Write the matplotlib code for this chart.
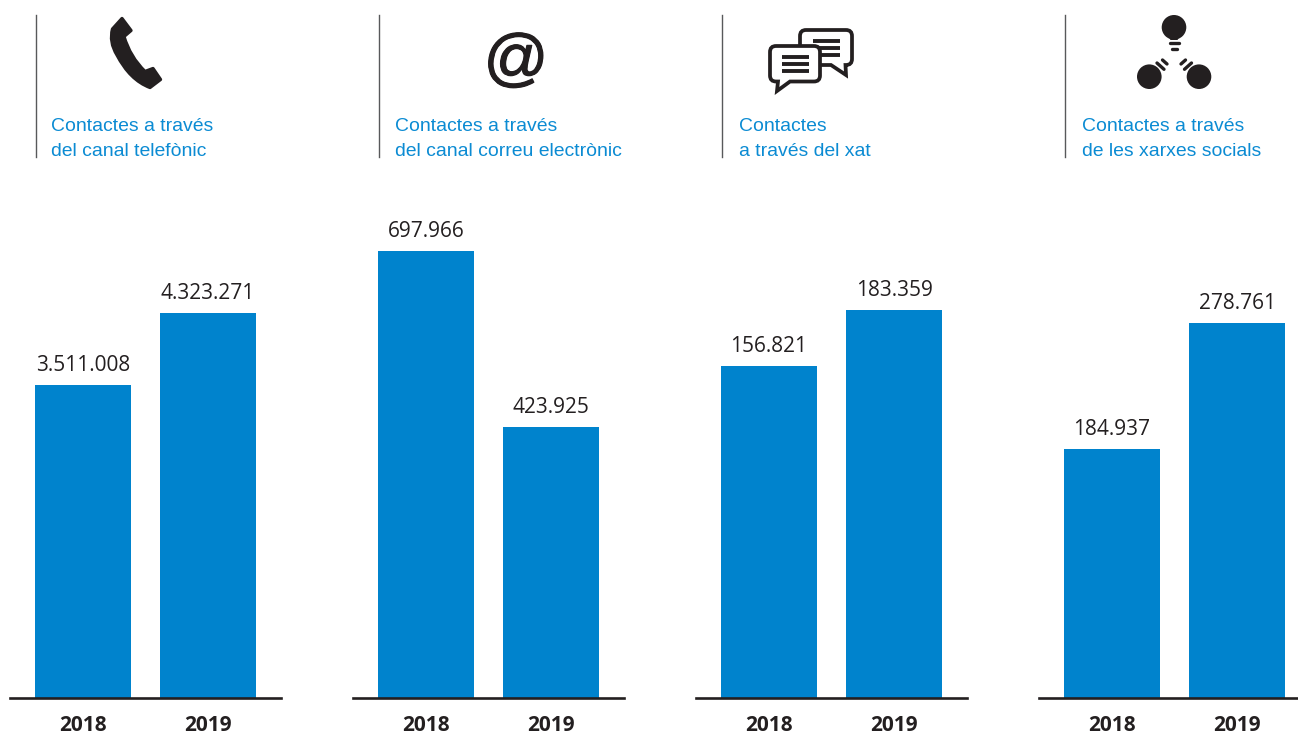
import matplotlib
matplotlib.use('Agg')
import matplotlib.pyplot as plt
import matplotlib.patheffects as pe
from matplotlib.path import Path
from matplotlib.patches import PathPatch, Circle

#data
years = ['2018', '2019']
telefon = [3511008, 4323271]
correu = [697966, 423925]
xat = [156821, 183359]
xarxes = [184937, 278761]
titols = [['Contactes a través', 'del canal telefònic'],
          ['Contactes a través', 'del canal correu electrònic'],
          ['Contactes', 'a través del xat'],
          ['Contactes a través', 'de les xarxes socials']]
# value per pixel of bar height, every panel has its own scale
escala = [11225, 1562, 472.5, 743]
panel_x = [10, 353, 696, 1039]
title_x = [51, 395, 739, 1082]
rule_x = [36, 379, 722, 1065]

W, H = 1298, 735
BLUE = '#0083cd'
TITLE = '#0b8bd3'
DARK = '#231f20'

plt.rcParams['font.family'] = ['Liberation Sans', 'DejaVu Sans']
fig = plt.figure(figsize=(W / 100, H / 100), dpi=100)

def fmt(v):
    return '{:,}'.format(int(v)).replace(',', '.')

#bars
base_y = 698
for i, vals in enumerate([telefon, correu, xat, xarxes]):
    ax = fig.add_axes([panel_x[i] / W, (H - base_y) / H, 271 / W, base_y / H])
    bars = ax.bar([0, 1], vals, width=0.768, color=BLUE)
    ax.set_xlim(-0.584, 1.584)
    ax.set_ylim(0, escala[i] * base_y)
    ax.bar_label(bars, labels=[fmt(v) for v in vals], padding=6.5, fontsize=15,
                 color=DARK, family='Open Sans')
    ax.set_xticks([0, 1])
    ax.set_xticklabels(years, fontsize=15, fontweight='bold', color=DARK, family='Open Sans')
    ax.tick_params(axis='x', length=0, pad=12)
    ax.set_yticks([])
    for s in ['top', 'left', 'right']:
        ax.spines[s].set_visible(False)
    ax.spines['bottom'].set_color(DARK)
    ax.spines['bottom'].set_linewidth(1.9)
    ax.patch.set_alpha(0)

#overlay in pixels for headers
ov = fig.add_axes([0, 0, 1, 1])
ov.set_xlim(0, W)
ov.set_ylim(H, 0)
ov.axis('off')
ov.patch.set_alpha(0)

for i in range(4):
    ov.plot([rule_x[i], rule_x[i]], [15, 157], color='#58595b', lw=1.0)
    ov.text(title_x[i], 131, titols[i][0], color=TITLE, fontsize=13.95, va='baseline')
    ov.text(title_x[i], 156, titols[i][1], color=TITLE, fontsize=13.95, va='baseline')

#phone
phone = [(Path.MOVETO, (112.5, 29)), (Path.LINETO, (122, 18.5)), (Path.LINETO, (131, 30.5)),
         (Path.LINETO, (124, 36.5)), (Path.CURVE3, (130, 57)), (Path.CURVE3, (145, 71.5)),
         (Path.LINETO, (153, 68.5)), (Path.LINETO, (160.5, 79.5)), (Path.LINETO, (150, 87.5)),
         (Path.CURVE3, (130, 80)), (Path.CURVE3, (117, 55)),
         (Path.CURVE3, (109, 42)), (Path.CURVE3, (112.5, 29)), (Path.CLOSEPOLY, (112.5, 29))]
codes, verts = zip(*phone)
ov.add_patch(PathPatch(Path(verts, codes), fc=DARK, ec=DARK, lw=2.4, joinstyle='round'))

#at sign
at = ov.text(515, 62, '@', fontsize=46, color=DARK, ha='center', va='center', style='italic')
at.set_path_effects([pe.withStroke(linewidth=0.8, foreground=DARK)])

#chat
def bubble(x0, x1, y0, y1, tail, z):
    r = 6
    k = Path.CURVE3
    v = [(x0 + r, y0), (x1 - r, y0), (x1, y0), (x1, y0 + r), (x1, y1 - r), (x1, y1), (x1 - r, y1)]
    c = [Path.MOVETO, Path.LINETO, k, k, Path.LINETO, k, k]
    for p in tail:
        v.append(p)
        c.append(Path.LINETO)
    v += [(x0 + r, y1), (x0, y1), (x0, y1 - r), (x0, y0 + r), (x0, y0), (x0 + r, y0), (x0 + r, y0)]
    c += [Path.LINETO, k, k, Path.LINETO, k, k, Path.CLOSEPOLY]
    ov.add_patch(PathPatch(Path(v, c), fc='white', ec=DARK, lw=2.7, joinstyle='miter', zorder=z))

bubble(800, 852, 30, 65, [(845.5, 65), (846, 75), (831, 65)], 3)
for y in [40.7, 47.7, 55]:
    ov.plot([812.7, 840], [y, y], color=DARK, lw=2.8, solid_capstyle='butt', zorder=4)
bubble(770, 820, 46, 81.5, [(790, 81.5), (777, 91), (778, 81.5)], 5)
for y in [56.7, 64, 70.7]:
    ov.plot([781.7, 809], [y, y], color=DARK, lw=2.8, solid_capstyle='butt', zorder=6)

#social
for c in [(1174, 27.3), (1149.3, 76.7), (1199, 76.7)]:
    ov.add_patch(Circle(c, 12.3, fc=DARK, ec='none'))
tip = [(1168, 36), (1180, 36), (1177.5, 40), (1170.5, 40), (1168, 36)]
ov.add_patch(PathPatch(Path(tip), fc=DARK, ec='none'))
dashes = [[(1169.8, 42.7), (1178.6, 42.7)], [(1172, 48.7), (1177, 48.7)],
          [(1162.5, 60), (1167, 64)], [(1157, 63), (1164, 69.3)],
          [(1181, 64), (1185.5, 60)], [(1184.5, 69.3), (1191.5, 63)]]
for d in dashes:
    ov.plot([d[0][0], d[1][0]], [d[0][1], d[1][1]], color=DARK, lw=2.4, solid_capstyle='round')

fig.savefig('out.png', dpi=100)
